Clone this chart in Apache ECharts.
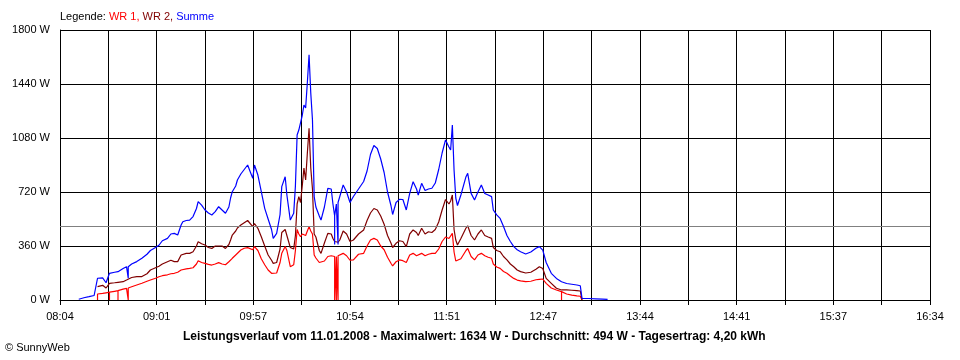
<!DOCTYPE html>
<html><head><meta charset="utf-8">
<script src="https://cdn.jsdelivr.net/npm/echarts@6/dist/echarts.min.js"></script>
<style>html,body{margin:0;padding:0;background:#fff}#c{width:960px;height:360px}</style>
</head><body><div id="c"></div>
<script>
// time of each sample (duplicated times draw the short drop-outs)
const times = [
'08:15','08:18','08:21','08:24','08:25','08:26','08:26','08:26','08:27','08:29','08:31','08:32','08:33','08:33','08:33',
'08:36','08:38','08:38','08:38','08:41','08:43','08:44','08:44','08:44','08:46','08:49','08:52','08:55','08:57',
'09:00','09:02','09:04','09:07','09:09','09:11','09:13','09:15','09:16','09:18','09:20','09:22','09:24','09:25','09:27','09:29',
'09:31','09:33','09:35','09:37','09:39','09:41','09:43','09:44','09:45','09:47','09:48','09:50','09:52','09:54','09:55','09:57','09:58',
'10:00','10:02','10:04','10:06','10:08','10:09','10:11','10:13','10:14','10:16','10:17','10:19','10:21','10:22','10:23','10:24','10:25',
'10:26','10:27','10:28','10:29','10:30','10:31','10:32','10:33','10:34','10:36','10:37','10:39','10:41','10:43','10:44',
'10:45','10:45','10:45','10:46','10:46','10:46','10:47','10:47','10:47','10:48','10:50','10:52','10:54','10:56','10:59',
'11:02','11:04','11:06','11:08','11:10','11:12','11:14','11:16','11:18','11:19','11:21','11:23','11:25','11:27','11:29',
'11:31','11:33','11:34','11:36','11:38','11:40','11:42','11:44','11:46','11:48','11:50','11:52','11:53','11:54','11:55','11:56','11:57','11:59',
'12:02','12:03','12:05','12:07','12:09','12:11','12:13','12:15','12:17','12:18','12:20','12:22','12:24','12:26','12:28',
'12:30','12:32','12:34','12:37','12:40','12:43','12:45','12:47','12:49','12:52','12:55','12:58','12:58','12:58',
'13:01','13:04','13:07','13:09','13:10','13:14','13:18','13:22','13:25'
];
// WR 1 (red)
const wr1 = [
null,null,null,null,null,40,0,40,42,44,48,50,52,0,52,
58,62,0,62,72,78,80,0,80,88,100,112,125,133,
145,155,162,168,175,178,185,200,204,208,211,215,240,262,250,244,
238,233,240,249,240,235,255,265,278,300,311,333,345,349,345,335,356,
330,275,235,200,178,167,180,250,311,356,330,222,235,330,470,440,422,
440,450,430,460,489,460,440,300,280,250,240,260,290,295,290,
290,0,290,290,0,290,295,0,295,300,311,295,265,268,305,
311,360,400,411,400,360,335,285,245,227,255,267,262,250,300,
311,295,290,311,295,305,311,311,340,390,420,410,420,444,320,260,250,275,
330,344,290,267,300,311,295,285,278,240,220,211,190,178,160,
144,133,127,122,125,135,138,140,111,80,67,56,0,56,
40,33,28,25,0,null,null,null,null
];
// WR 2 (dark red)
const wr2 = [
null,null,null,null,null,89,89,89,100,98,80,78,111,111,111,
115,118,118,118,122,133,133,133,133,150,156,156,175,200,
215,225,240,255,265,256,256,300,311,311,311,322,360,389,375,367,
350,344,360,360,360,344,370,400,433,460,480,500,515,530,533,489,510,
478,422,360,300,265,244,250,340,450,470,478,350,340,430,640,689,650,
760,880,800,980,1144,880,740,440,420,330,311,380,444,440,410,
390,390,390,385,385,385,385,385,385,400,460,440,390,400,440,
467,530,580,610,600,560,505,430,380,350,378,395,390,356,440,
467,450,430,478,440,455,450,470,520,600,670,640,660,700,470,400,367,410,
480,495,430,400,440,467,430,420,411,350,330,322,290,267,240,
222,200,189,180,185,205,222,210,144,111,78,67,67,67,
67,65,63,60,0,null,null,null,null
];
// Summe (blue)
const summe = [
5,15,22,30,33,145,145,145,150,148,115,111,178,178,178,
185,189,189,189,210,222,222,145,222,240,256,278,305,330,
350,365,395,411,440,444,433,500,522,530,533,556,610,656,633,600,
580,567,589,622,600,578,620,680,722,760,800,840,870,900,870,811,900,
833,722,611,540,470,411,444,570,756,822,700,533,578,760,1100,1133,1120,
1230,1300,1280,1450,1634,1380,1200,690,620,560,533,620,744,740,640,
560,370,560,640,640,640,640,370,650,656,767,720,650,690,740,
790,860,970,1030,1010,940,850,720,630,570,650,671,670,600,711,
789,740,700,778,730,740,745,780,870,980,1067,1020,1000,1167,867,680,630,700,
822,844,711,667,720,767,710,700,689,600,567,544,490,430,390,
356,335,322,307,320,345,356,333,250,178,144,122,122,122,
110,105,100,95,11,10,8,6,4
];
const xTickLabels = ['08:04','09:01','09:57','10:54','11:51','12:47','13:44','14:41','15:37','16:34'];
const average = 494;
const titleText = 'Leistungsverlauf vom 11.01.2008 - Maximalwert: 1634 W - Durchschnitt: 494 W - Tagesertrag: 4,20 kWh';

const startMin = 8*60+4, endMin = 16*60+34;
const span = endMin - startMin;
const step = span/18;
function toMin(t){const p=t.split(':').map(Number);return p[0]*60+p[1]-startMin;}
function pts(vals){const out=[];times.forEach((t,i)=>{if(vals[i]!==null)out.push([toMin(t),vals[i]]);});return out;}

const FF = 'Liberation Sans, Arial, sans-serif';
const chart = echarts.init(document.getElementById('c'), null, {renderer:'canvas'});
const lineBase = {type:'line', showSymbol:false, symbol:'none', animation:false, sampling:null, smooth:false};
chart.setOption({
  animation:false,
  backgroundColor:'#fff',
  title:[
    {text:'Legende: {r|WR 1,} {d|WR 2,} {b|Summe}', left:60, top:11, padding:0,
     textStyle:{fontFamily:FF, fontSize:11, fontWeight:'normal', color:'#000',
       rich:{r:{color:'#ff0000',fontFamily:FF,fontSize:11},d:{color:'#800000',fontFamily:FF,fontSize:11},b:{color:'#0000ff',fontFamily:FF,fontSize:11}}}},
    {text:titleText, left:183, top:331, padding:0, textStyle:{fontFamily:FF, fontSize:12, fontWeight:'bold', color:'#000'}},
    {text:'© SunnyWeb', left:5, top:342, padding:0, textStyle:{fontFamily:FF, fontSize:11, fontWeight:'normal', color:'#000'}}
  ],
  grid:{left:60, right:30, top:30, bottom:60, containLabel:false},
  xAxis:{type:'value', min:0, max:span, interval:step,
    axisLine:{show:true, lineStyle:{color:'#000', width:1}},
    axisTick:{show:true, length:5, lineStyle:{color:'#000'}},
    axisLabel:{show:true, margin:11, color:'#000', fontFamily:FF, fontSize:11, showMaxLabel:true, showMinLabel:true,
      formatter:function(v){const i=Math.round(v/step);return i%2===0?(xTickLabels[i/2]||''):'';}},
    splitLine:{show:true, lineStyle:{color:'#000', width:1}}},
  yAxis:{type:'value', min:0, max:1800, interval:360,
    axisLine:{show:true, lineStyle:{color:'#000', width:1}},
    axisTick:{show:false},
    axisLabel:{margin:10, color:'#000', fontFamily:FF, fontSize:11, formatter:function(v){return String(Math.round(v))+' W';}},
    splitLine:{show:true, lineStyle:{color:'#000', width:1}}},
  series:[
    Object.assign({}, lineBase, {name:'WR 1', data:pts(wr1), lineStyle:{color:'#ff0000', width:1.2}, itemStyle:{color:'#ff0000'}, z:3}),
    Object.assign({}, lineBase, {name:'WR 2', data:pts(wr2), lineStyle:{color:'#800000', width:1.2}, itemStyle:{color:'#800000'}, z:4}),
    Object.assign({}, lineBase, {name:'Summe', data:pts(summe), lineStyle:{color:'#0000ff', width:1.2}, itemStyle:{color:'#0000ff'}, z:5,
      markLine:{silent:true, symbol:['none','none'], label:{show:false}, animation:false,
        lineStyle:{color:'#808080', type:'solid', width:1}, data:[{yAxis:average}]}})
  ]
});
</script></body></html>
